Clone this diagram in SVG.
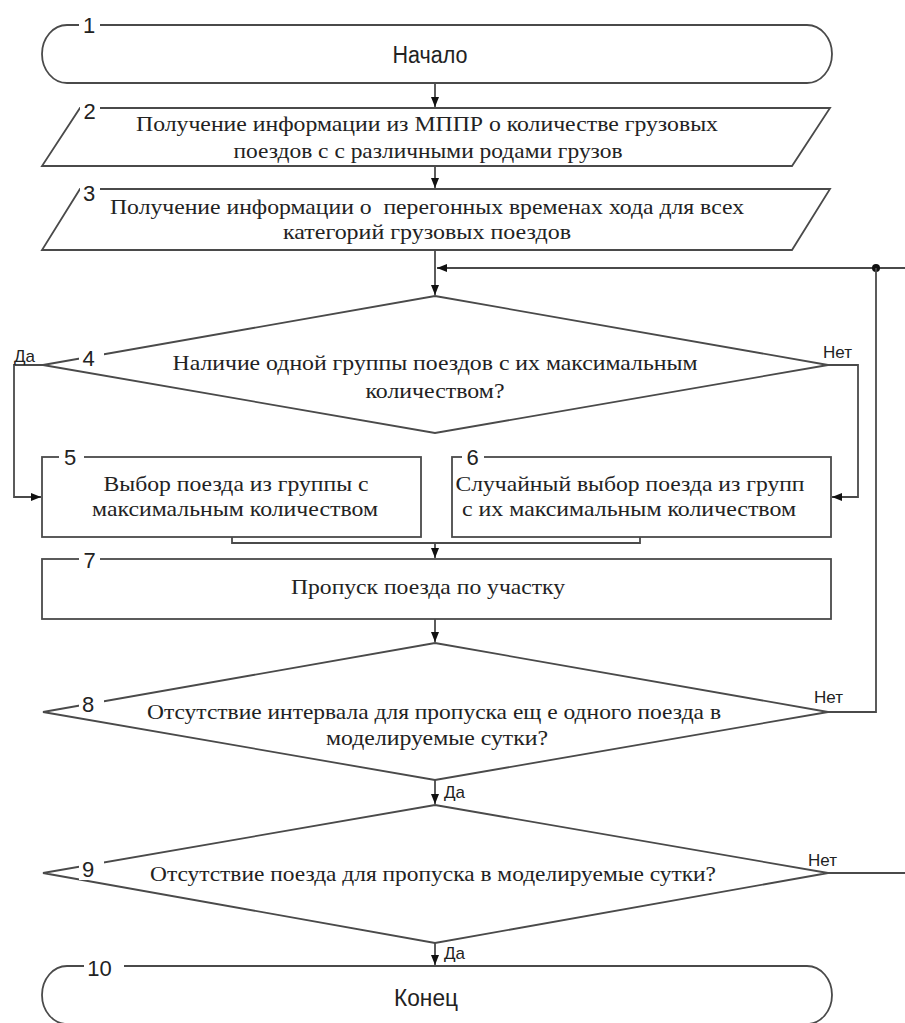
<svg xmlns="http://www.w3.org/2000/svg" width="905" height="1023" viewBox="0 0 905 1023">
<style>
.sh{fill:#fff;stroke:#4a4a4a;stroke-width:1.8}
.ln{fill:none;stroke:#4a4a4a;stroke-width:1.8}
.t{font-family:"Liberation Serif","Times New Roman",serif;font-size:21px;fill:#222;text-anchor:middle;white-space:pre}
.s{font-family:"Liberation Sans",Arial,sans-serif;font-size:23px;fill:#222;text-anchor:middle}
.n{font-family:"Liberation Sans",Arial,sans-serif;font-size:22px;fill:#222;text-anchor:middle}
.yn{font-family:"Liberation Sans",Arial,sans-serif;font-size:17px;fill:#222}
.bg{fill:#fff;stroke:none}
</style>
<defs>
<marker id="ah" markerUnits="userSpaceOnUse" markerWidth="10" markerHeight="8" refX="10" refY="4" orient="auto">
<path d="M0,0 L10,4 L0,8 z" fill="#111"/>
</marker>
</defs>
<rect width="905" height="1023" fill="#fff"/>

<g id="connectors">
<path class="ln" d="M435,83 V107" marker-end="url(#ah)"/>
<path class="ln" d="M435,166 V188" marker-end="url(#ah)"/>
<path class="ln" d="M435,250 V295" marker-end="url(#ah)"/>
<path class="ln" d="M905,268 H437" marker-end="url(#ah)"/>
<circle cx="876" cy="268" r="4" fill="#111"/>
<path class="ln" d="M828,712 H876 V268"/>
<path class="ln" d="M828,873 H905"/>
<path class="ln" d="M43,365 H14 V497 H41" marker-end="url(#ah)"/>
<path class="ln" d="M828,365 H858 V497 H832" marker-end="url(#ah)"/>
<path class="ln" d="M232,537 V543 H640 V537"/>
<path class="ln" d="M435,543 V558" marker-end="url(#ah)"/>
<path class="ln" d="M435,619 V642" marker-end="url(#ah)"/>
<path class="ln" d="M435,780 V804" marker-end="url(#ah)"/>
<path class="ln" d="M435,943 V965" marker-end="url(#ah)"/>
<text class="yn" x="14" y="362">Да</text>
<text class="yn" x="823" y="358">Нет</text>
<text class="yn" x="814" y="703">Нет</text>
<text class="yn" x="808" y="866">Нет</text>
<text class="yn" x="444" y="798">Да</text>
<text class="yn" x="444" y="959">Да</text>
</g>

<g id="node1">
<rect class="sh" x="42" y="25" width="790" height="58" rx="25" ry="29"/>
<rect class="bg" x="79" y="14" width="21" height="22"/>
<text class="n" x="89" y="33">1</text>
<text class="s" x="430" y="63" textLength="75" lengthAdjust="spacingAndGlyphs">Начало</text>
</g>

<g id="node2">
<polygon class="sh" points="80,108 830,108 792,166 42,166"/>
<rect class="bg" x="80" y="98" width="20" height="22"/>
<text class="n" x="89.5" y="119">2</text>
<text class="t" x="427" y="131" textLength="582" lengthAdjust="spacingAndGlyphs">Получение информации из МППР о количестве грузовых</text>
<text class="t" x="428" y="158" textLength="389" lengthAdjust="spacingAndGlyphs">поездов с с различными родами грузов</text>
</g>

<g id="node3">
<polygon class="sh" points="80,189 830,189 792,250 42,250"/>
<rect class="bg" x="80" y="179" width="20" height="22"/>
<text class="n" x="89" y="201">3</text>
<text class="t" x="427" y="214" textLength="634" lengthAdjust="spacingAndGlyphs">Получение информации о  перегонных временах хода для всех</text>
<text class="t" x="427" y="239" textLength="288" lengthAdjust="spacingAndGlyphs">категорий грузовых поездов</text>
</g>

<g id="node4">
<polygon class="sh" points="435,296 828,365 435,433 43,365"/>
<rect class="bg" x="79" y="343" width="25" height="25"/>
<text class="n" x="88.5" y="366">4</text>
<text class="t" x="435" y="370" textLength="525" lengthAdjust="spacingAndGlyphs">Наличие одной группы поездов с их максимальным</text>
<text class="t" x="435" y="398" textLength="139" lengthAdjust="spacingAndGlyphs">количеством?</text>
</g>

<g id="node5">
<rect class="sh" x="42" y="457" width="379" height="80"/>
<rect class="bg" x="59" y="446" width="25" height="20"/>
<text class="n" x="70" y="465">5</text>
<text class="t" x="236" y="491" textLength="265" lengthAdjust="spacingAndGlyphs">Выбор поезда из группы с</text>
<text class="t" x="235" y="516" textLength="286" lengthAdjust="spacingAndGlyphs">максимальным количеством</text>
</g>

<g id="node6">
<rect class="sh" x="452" y="457" width="379" height="80"/>
<rect class="bg" x="462" y="446" width="22" height="20"/>
<text class="n" x="472.5" y="465">6</text>
<text class="t" x="630" y="491" textLength="349" lengthAdjust="spacingAndGlyphs">Случайный выбор поезда из групп</text>
<text class="t" x="629" y="516" textLength="334" lengthAdjust="spacingAndGlyphs">с их максимальным количеством</text>
</g>

<g id="node7">
<rect class="sh" x="42" y="559" width="789" height="60"/>
<rect class="bg" x="79" y="548" width="21" height="22"/>
<text class="n" x="89.5" y="568">7</text>
<text class="t" x="428" y="594" textLength="274" lengthAdjust="spacingAndGlyphs">Пропуск поезда по участку</text>
</g>

<g id="node8">
<polygon class="sh" points="435,643 828,712 435,780 43,712"/>
<rect class="bg" x="79" y="690" width="25" height="25"/>
<text class="n" x="88" y="712">8</text>
<text class="t" x="434" y="719" textLength="574" lengthAdjust="spacingAndGlyphs">Отсутствие интервала для пропуска ещ е одного поезда в</text>
<text class="t" x="437" y="745" textLength="222" lengthAdjust="spacingAndGlyphs">моделируемые сутки?</text>
</g>

<g id="node9">
<polygon class="sh" points="435,805 828,873 435,943 43,873"/>
<rect class="bg" x="79" y="855" width="25" height="25"/>
<text class="n" x="88" y="877">9</text>
<text class="t" x="433" y="881" textLength="566" lengthAdjust="spacingAndGlyphs">Отсутствие поезда для пропуска в моделируемые сутки?</text>
</g>

<g id="node10">
<rect class="sh" x="42" y="966" width="790" height="58" rx="25" ry="29"/>
<rect class="bg" x="84" y="955" width="40" height="22"/>
<text class="n" x="99.5" y="976">10</text>
<text class="s" x="426" y="1006" textLength="64" lengthAdjust="spacingAndGlyphs">Конец</text>
</g>
</svg>
